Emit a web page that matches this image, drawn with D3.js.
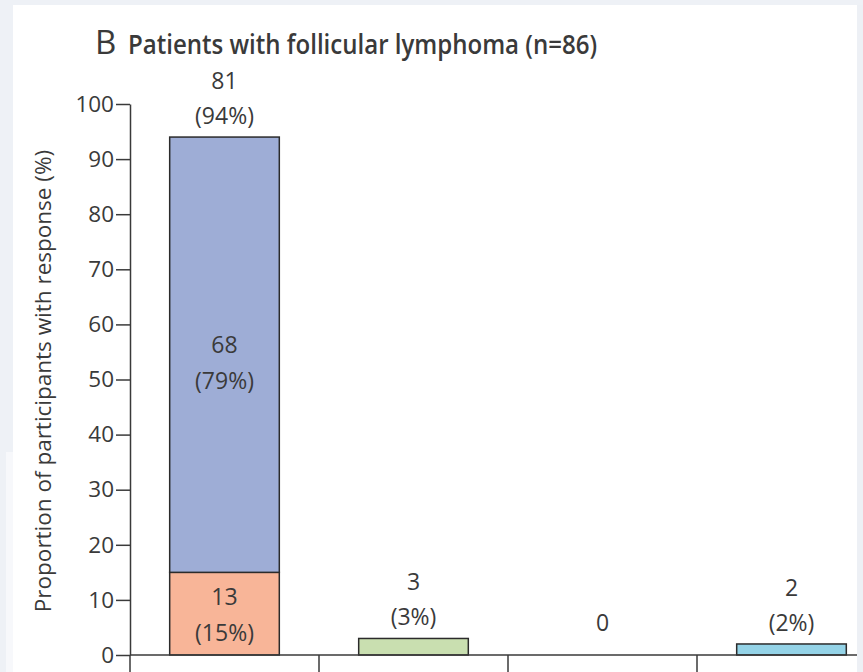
<!DOCTYPE html>
<html>
<head>
<meta charset="utf-8">
<script src="https://cdn.jsdelivr.net/npm/d3@7"></script>
<style>
  html, body { margin: 0; padding: 0; background: #eef1f6; }
  svg { display: block; }
  text { font-family: "Open Sans", "Noto Sans", sans-serif; fill: #3a3a3a; }
</style>
</head>
<body>
<svg id="chart" width="863" height="672"></svg>
<script>
// Response categories (one bar each)
const categories = ["Overall response", "Stable disease", "Progressive disease", "Not evaluable"];
// Lower segment of each bar: counts and percentages
const lowerCounts = [13, 3, 0, 2];
const lowerPct = [15, 3, 0, 2];
// Upper segment (stacked on the first bar only)
const upperCounts = [68, 0, 0, 0];
const upperPct = [79, 0, 0, 0];
// Bar totals
const totalCounts = [81, 3, 0, 2];
const totalPct = [94, 3, 0, 2];
// Y axis ticks
const yTicks = [0, 10, 20, 30, 40, 50, 60, 70, 80, 90, 100];

const lowerFill = ["#f8b598", "#c9dfb0", "#cccccc", "#94d3e7"];
const upperFill = "#9eadd6";
const ink = "#2b2b2b";

const svg = d3.select("#chart");
const W = 863, H = 672;

// page frame
svg.append("rect").attr("x", 0).attr("y", 0).attr("width", W).attr("height", H).attr("fill", "#eef1f6");
svg.append("rect").attr("x", 6).attr("y", 452).attr("width", 8).attr("height", H - 452).attr("fill", "#f7f8fb");
svg.append("rect").attr("x", 13).attr("y", 5).attr("width", 844).attr("height", H - 5).attr("fill", "#ffffff");

const plot = svg.append("g");

const y = d3.scaleLinear().domain([0, 100]).range([655, 104]);
const x = d3.scaleBand().domain(categories).range([130, 886]);
const barW = x.bandwidth() * 0.58;
const barX = c => x(c) + (x.bandwidth() - barW) / 2;
const cx = c => x(c) + x.bandwidth() / 2;

// Bars: lower segment, then the stacked upper segment
categories.forEach((c, i) => {
  if (lowerPct[i] > 0) {
    plot.append("rect")
      .attr("x", barX(c)).attr("width", barW)
      .attr("y", y(lowerPct[i])).attr("height", y(0) - y(lowerPct[i]))
      .attr("fill", lowerFill[i]).attr("stroke", ink).attr("stroke-width", 1.5);
  }
  if (upperPct[i] > 0) {
    const top = lowerPct[i] + upperPct[i];
    plot.append("rect")
      .attr("x", barX(c)).attr("width", barW)
      .attr("y", y(top)).attr("height", y(lowerPct[i]) - y(top))
      .attr("fill", upperFill).attr("stroke", ink).attr("stroke-width", 1.5);
  }
});

// Y axis
const yAxis = plot.append("g")
  .attr("transform", "translate(130,0)")
  .call(d3.axisLeft(y).tickValues(yTicks).tickSize(14).tickSizeOuter(0).tickPadding(2));
yAxis.selectAll("path, line").attr("stroke", "#3a3a3a").attr("stroke-width", 1.5);
yAxis.selectAll("text").attr("font-size", 22.5).attr("fill", "#3a3a3a")
  .attr("font-family", "'Open Sans', sans-serif");

// Baseline and category boundaries
plot.append("line").attr("x1", 130).attr("x2", 886).attr("y1", y(0)).attr("y2", y(0))
  .attr("stroke", "#3a3a3a").attr("stroke-width", 1.5);
categories.forEach(c => {
  plot.append("line").attr("x1", x(c)).attr("x2", x(c)).attr("y1", y(0)).attr("y2", H)
    .attr("stroke", "#3a3a3a").attr("stroke-width", 1.5);
});

// Value labels
const fs = 23;
function label(xp, yp, txt) {
  plot.append("text").attr("x", xp).attr("y", yp)
    .attr("text-anchor", "middle").attr("dominant-baseline", "central")
    .attr("font-size", fs).text(txt);
}
categories.forEach((c, i) => {
  if (upperPct[i] > 0) {
    // labels inside each stacked segment, plus total above
    const mLow = (y(0) + y(lowerPct[i])) / 2;
    label(cx(c), mLow - 18, lowerCounts[i]);
    label(cx(c), mLow + 18, `(${lowerPct[i]}%)`);
    const mUp = (y(lowerPct[i]) + y(lowerPct[i] + upperPct[i])) / 2 + 7;
    label(cx(c), mUp - 18, upperCounts[i]);
    label(cx(c), mUp + 18, `(${upperPct[i]}%)`);
  }
  if (totalCounts[i] > 0) {
    const t = y(totalPct[i]);
    label(cx(c), t - 57, totalCounts[i]);
    label(cx(c), t - 22, `(${totalPct[i]}%)`);
  } else {
    label(cx(c), y(0) - 33, totalCounts[i]);
  }
});

// Y axis title
svg.append("text")
  .attr("transform", "translate(42,381) rotate(-90)")
  .attr("text-anchor", "middle").attr("dominant-baseline", "central")
  .attr("font-size", 22.5).text("Proportion of participants with response (%)");

// Panel title
svg.append("text").attr("x", 95).attr("y", 54).attr("font-size", 33)
  .attr("fill", "#222").text("B");
svg.append("text").attr("x", 128).attr("y", 54).attr("font-size", 27)
  .attr("font-weight", 600).attr("fill", "#222")
  .attr("textLength", 469).attr("lengthAdjust", "spacingAndGlyphs")
  .text("Patients with follicular lymphoma (n=86)");

// right edge of the page frame
svg.append("rect").attr("x", 857).attr("y", 5).attr("width", 6).attr("height", H - 5).attr("fill", "#edf0f5");
</script>
</body>
</html>
